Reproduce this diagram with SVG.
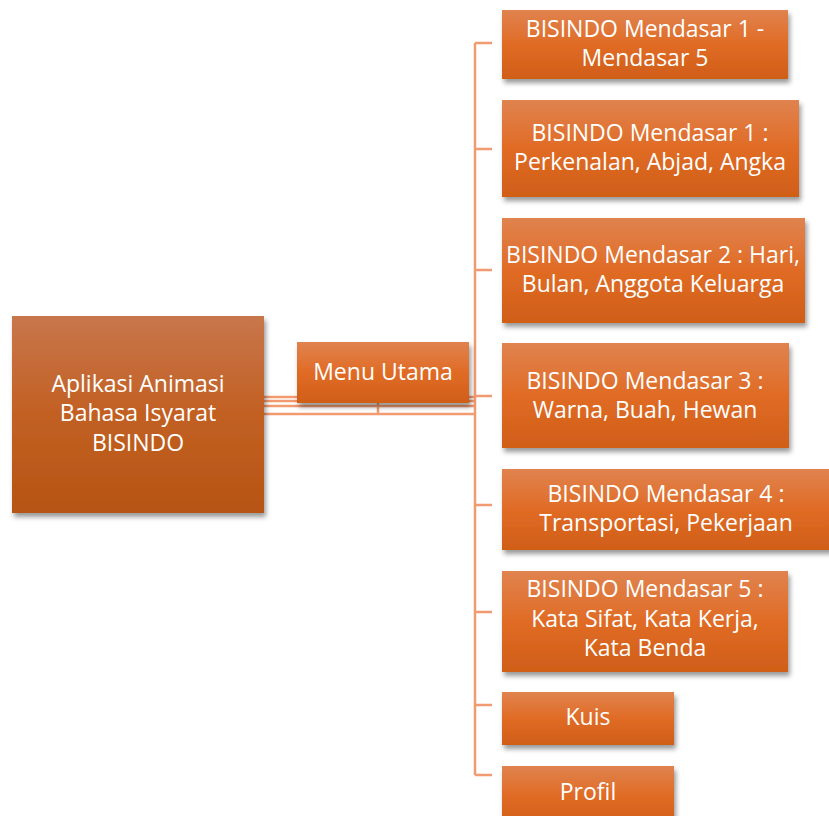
<svg xmlns="http://www.w3.org/2000/svg" width="829" height="816" viewBox="0 0 829 816">
<style>
.box{fill:url(#g);filter:url(#sh)}
.root{fill:url(#gr);filter:url(#sh)}
.t{font-family:"Open Sans","Liberation Sans",sans-serif;font-size:23px;fill:#fff;text-anchor:middle}
.c{stroke:#f29a70;stroke-width:2.5;fill:none}
</style>
<defs>
<linearGradient id="g" x1="0" y1="0" x2="0" y2="1"><stop offset="0" stop-color="#e0834f"/><stop offset="0.5" stop-color="#e06b25"/><stop offset="1" stop-color="#d05e18"/></linearGradient>
<linearGradient id="gr" x1="0" y1="0" x2="0" y2="1"><stop offset="0" stop-color="#c8764c"/><stop offset="0.5" stop-color="#c26023"/><stop offset="1" stop-color="#b65414"/></linearGradient>
<filter id="sh" x="-10%" y="-10%" width="125%" height="130%"><feDropShadow dx="2" dy="4" stdDeviation="2.5" flood-color="#000" flood-opacity="0.4"/></filter>
</defs>
<g id="connectors">
<path class="c" d="M264 397H475M264 401H475M264 406H475M264 414H475M378 403V414"/>
<path class="c" d="M475 43V775M475 43H492M475 149H492M475 270H492M475 396H492M475 505H492M475 612H492M475 705H492M475 775H492"/>
</g>
<g id="root"><rect class="root" x="12" y="316" width="252" height="197"/>
<text class="t" x="138" y="392">Aplikasi Animasi</text><text class="t" x="138" y="421">Bahasa Isyarat</text><text class="t" x="138" y="451">BISINDO</text></g>
<g id="menu"><rect class="box" x="297" y="342" width="172" height="61"/><text class="t" x="383" y="380">Menu Utama</text></g>
<g id="n1"><rect class="box" x="502" y="10" width="286" height="69"/><text class="t" x="645" y="37">BISINDO Mendasar 1 -</text><text class="t" x="645" y="66">Mendasar 5</text></g>
<g id="n2"><rect class="box" x="502" y="100" width="297" height="97"/><text class="t" x="650" y="141">BISINDO Mendasar 1 :</text><text class="t" x="650" y="170">Perkenalan, Abjad, Angka</text></g>
<g id="n3"><rect class="box" x="502" y="218" width="303" height="105"/><text class="t" x="653" y="263">BISINDO Mendasar 2 : Hari,</text><text class="t" x="653" y="292">Bulan, Anggota Keluarga</text></g>
<g id="n4"><rect class="box" x="502" y="343" width="287" height="105"/><text class="t" x="645" y="389">BISINDO Mendasar 3 :</text><text class="t" x="645" y="418">Warna, Buah, Hewan</text></g>
<g id="n5"><rect class="box" x="502" y="469" width="340" height="81"/><text class="t" x="666" y="502">BISINDO Mendasar 4 :</text><text class="t" x="666" y="531">Transportasi, Pekerjaan</text></g>
<g id="n6"><rect class="box" x="502" y="571" width="286" height="101"/><text class="t" x="645" y="597">BISINDO Mendasar 5 :</text><text class="t" x="645" y="627">Kata Sifat, Kata Kerja,</text><text class="t" x="645" y="656">Kata Benda</text></g>
<g id="n7"><rect class="box" x="502" y="692" width="172" height="53"/><text class="t" x="588" y="725">Kuis</text></g>
<g id="n8"><rect class="box" x="502" y="766" width="172" height="60"/><text class="t" x="588" y="800">Profil</text></g>
</svg>
